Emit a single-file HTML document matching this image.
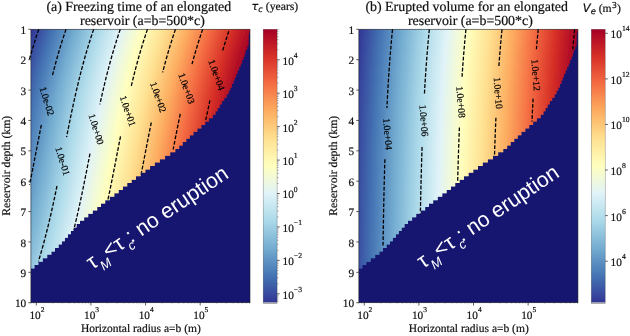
<!DOCTYPE html><html><head><meta charset="utf-8"><title>figure</title><style>html,body{margin:0;padding:0;background:#fff}svg{display:block;will-change:transform;text-rendering:geometricPrecision}</style></head><body>
<svg width="630" height="336" viewBox="0 0 630 336">
<rect width="630" height="336" fill="#fff"/>
<defs><filter id="bl" x="-5%" y="-5%" width="110%" height="110%"><feGaussianBlur stdDeviation="0.6"/></filter><filter id="bl2" x="-5%" y="-5%" width="110%" height="110%"><feGaussianBlur stdDeviation="0.25"/></filter></defs>
<defs><linearGradient id="ga" gradientUnits="userSpaceOnUse" x1="31.45" y1="0" x2="254.22" y2="0"><stop offset="0" stop-color="#313695"/><stop offset="0.1" stop-color="#4575b4"/><stop offset="0.2" stop-color="#74add1"/><stop offset="0.3" stop-color="#abd9e9"/><stop offset="0.4" stop-color="#e0f3f8"/><stop offset="0.5" stop-color="#ffffbf"/><stop offset="0.6" stop-color="#fee090"/><stop offset="0.7" stop-color="#fdae61"/><stop offset="0.8" stop-color="#f46d43"/><stop offset="0.9" stop-color="#d73027"/><stop offset="1" stop-color="#a50026"/></linearGradient>
<clipPath id="cga"><path d="M26.90 25.30 L254.00 25.30 L254.00 32.72 L248.84 32.72 L248.84 36.13 L248.62 36.13 L248.62 39.55 L248.54 39.55 L248.54 42.97 L248.46 42.97 L248.46 46.39 L247.19 46.39 L247.19 49.80 L245.61 49.80 L245.61 53.22 L244.82 53.22 L244.82 56.64 L243.46 56.64 L243.46 60.06 L242.09 60.06 L242.09 63.47 L240.69 63.47 L240.69 66.89 L239.14 66.89 L239.14 70.31 L237.60 70.31 L237.60 73.73 L236.13 73.73 L236.13 77.14 L234.76 77.14 L234.76 80.56 L233.39 80.56 L233.39 83.98 L231.96 83.98 L231.96 87.40 L230.27 87.40 L230.27 90.81 L228.58 90.81 L228.58 94.23 L226.60 94.23 L226.60 97.65 L224.22 97.65 L224.22 101.07 L221.85 101.07 L221.85 104.48 L219.66 104.48 L219.66 107.90 L217.58 107.90 L217.58 111.32 L215.50 111.32 L215.50 114.74 L212.70 114.74 L212.70 118.15 L208.92 118.15 L208.92 121.57 L205.15 121.57 L205.15 124.99 L201.28 124.99 L201.28 128.41 L197.36 128.41 L197.36 131.82 L193.43 131.82 L193.43 135.24 L189.83 135.24 L189.83 138.66 L186.27 138.66 L186.27 142.08 L182.71 142.08 L182.71 145.49 L179.18 145.49 L179.18 148.91 L175.28 148.91 L175.28 152.33 L170.19 152.33 L170.19 155.75 L165.05 155.75 L165.05 159.16 L159.91 159.16 L159.91 162.58 L154.80 162.58 L154.80 166.00 L150.06 166.00 L150.06 169.42 L145.33 169.42 L145.33 172.83 L140.62 172.83 L140.62 176.25 L136.01 176.25 L136.01 179.67 L131.61 179.67 L131.61 183.09 L127.23 183.09 L127.23 186.50 L122.95 186.50 L122.95 189.92 L118.67 189.92 L118.67 193.34 L114.30 193.34 L114.30 196.76 L109.75 196.76 L109.75 200.17 L105.19 200.17 L105.19 203.59 L101.01 203.59 L101.01 207.01 L97.20 207.01 L97.20 210.43 L92.77 210.43 L92.77 213.84 L88.24 213.84 L88.24 217.26 L84.13 217.26 L84.13 220.68 L80.03 220.68 L80.03 224.10 L76.59 224.10 L76.59 227.51 L73.72 227.51 L73.72 230.93 L70.86 230.93 L70.86 234.35 L67.93 234.35 L67.93 237.77 L64.92 237.77 L64.92 241.18 L61.91 241.18 L61.91 244.60 L58.59 244.60 L58.59 248.02 L55.00 248.02 L55.00 251.44 L51.40 251.44 L51.40 254.85 L47.19 254.85 L47.19 258.27 L42.77 258.27 L42.77 261.69 L38.36 261.69 L38.36 265.11 L34.42 265.11 L34.42 268.52 L26.90 268.52 L26.90 271.94 L26.90 271.94 L26.90 275.36 L26.90 275.36 L26.90 278.78 L26.90 278.78 L26.90 282.19 L26.90 282.19 L26.90 285.61 L26.90 285.61 L26.90 289.03 L26.90 289.03 L26.90 292.45 L26.90 292.45 L26.90 295.86 L26.90 295.86 L26.90 299.28 L26.90 299.28 L26.90 302.70 L26.90 302.70Z"/></clipPath>
<clipPath id="rga"><rect x="30.90" y="29.30" width="219.10" height="273.40"/></clipPath></defs>
<g clip-path="url(#rga)"><g filter="url(#bl)"><rect x="26.90" y="25.30" width="227.10" height="281.40" fill="#191970"/>
<g clip-path="url(#cga)">
<rect transform="translate(0.07)" x="26.83" y="25.30" width="227.10" height="3.00" fill="url(#ga)"/>
<rect transform="translate(0.07)" x="26.83" y="27.30" width="227.10" height="3.00" fill="url(#ga)"/>
<rect transform="translate(-0.27)" x="27.17" y="29.30" width="227.10" height="3.00" fill="url(#ga)"/>
<rect transform="translate(-0.95)" x="27.85" y="31.30" width="227.10" height="3.00" fill="url(#ga)"/>
<rect transform="translate(-1.62)" x="28.52" y="33.30" width="227.10" height="3.00" fill="url(#ga)"/>
<rect transform="translate(-2.28)" x="29.18" y="35.30" width="227.10" height="3.00" fill="url(#ga)"/>
<rect transform="translate(-2.93)" x="29.83" y="37.30" width="227.10" height="3.00" fill="url(#ga)"/>
<rect transform="translate(-3.57)" x="30.47" y="39.30" width="227.10" height="3.00" fill="url(#ga)"/>
<rect transform="translate(-4.20)" x="31.10" y="41.30" width="227.10" height="3.00" fill="url(#ga)"/>
<rect transform="translate(-4.83)" x="31.73" y="43.30" width="227.10" height="3.00" fill="url(#ga)"/>
<rect transform="translate(-5.44)" x="32.34" y="45.30" width="227.10" height="3.00" fill="url(#ga)"/>
<rect transform="translate(-6.05)" x="32.95" y="47.30" width="227.10" height="3.00" fill="url(#ga)"/>
<rect transform="translate(-6.65)" x="33.55" y="49.30" width="227.10" height="3.00" fill="url(#ga)"/>
<rect transform="translate(-7.24)" x="34.14" y="51.30" width="227.10" height="3.00" fill="url(#ga)"/>
<rect transform="translate(-7.82)" x="34.72" y="53.30" width="227.10" height="3.00" fill="url(#ga)"/>
<rect transform="translate(-8.39)" x="35.29" y="55.30" width="227.10" height="3.00" fill="url(#ga)"/>
<rect transform="translate(-8.96)" x="35.86" y="57.30" width="227.10" height="3.00" fill="url(#ga)"/>
<rect transform="translate(-9.52)" x="36.42" y="59.30" width="227.10" height="3.00" fill="url(#ga)"/>
<rect transform="translate(-10.08)" x="36.98" y="61.30" width="227.10" height="3.00" fill="url(#ga)"/>
<rect transform="translate(-10.62)" x="37.52" y="63.30" width="227.10" height="3.00" fill="url(#ga)"/>
<rect transform="translate(-11.16)" x="38.06" y="65.30" width="227.10" height="3.00" fill="url(#ga)"/>
<rect transform="translate(-11.69)" x="38.59" y="67.30" width="227.10" height="3.00" fill="url(#ga)"/>
<rect transform="translate(-12.22)" x="39.12" y="69.30" width="227.10" height="3.00" fill="url(#ga)"/>
<rect transform="translate(-12.74)" x="39.64" y="71.30" width="227.10" height="3.00" fill="url(#ga)"/>
<rect transform="translate(-13.25)" x="40.15" y="73.30" width="227.10" height="3.00" fill="url(#ga)"/>
<rect transform="translate(-13.76)" x="40.66" y="75.30" width="227.10" height="3.00" fill="url(#ga)"/>
<rect transform="translate(-14.26)" x="41.16" y="77.30" width="227.10" height="3.00" fill="url(#ga)"/>
<rect transform="translate(-14.75)" x="41.65" y="79.30" width="227.10" height="3.00" fill="url(#ga)"/>
<rect transform="translate(-15.24)" x="42.14" y="81.30" width="227.10" height="3.00" fill="url(#ga)"/>
<rect transform="translate(-15.72)" x="42.62" y="83.30" width="227.10" height="3.00" fill="url(#ga)"/>
<rect transform="translate(-16.20)" x="43.10" y="85.30" width="227.10" height="3.00" fill="url(#ga)"/>
<rect transform="translate(-16.68)" x="43.58" y="87.30" width="227.10" height="3.00" fill="url(#ga)"/>
<rect transform="translate(-17.14)" x="44.04" y="89.30" width="227.10" height="3.00" fill="url(#ga)"/>
<rect transform="translate(-17.61)" x="44.51" y="91.30" width="227.10" height="3.00" fill="url(#ga)"/>
<rect transform="translate(-18.07)" x="44.97" y="93.30" width="227.10" height="3.00" fill="url(#ga)"/>
<rect transform="translate(-18.52)" x="45.42" y="95.30" width="227.10" height="3.00" fill="url(#ga)"/>
<rect transform="translate(-18.97)" x="45.87" y="97.30" width="227.10" height="3.00" fill="url(#ga)"/>
<rect transform="translate(-19.41)" x="46.31" y="99.30" width="227.10" height="3.00" fill="url(#ga)"/>
<rect transform="translate(-19.85)" x="46.75" y="101.30" width="227.10" height="3.00" fill="url(#ga)"/>
<rect transform="translate(-20.29)" x="47.19" y="103.30" width="227.10" height="3.00" fill="url(#ga)"/>
<rect transform="translate(-20.72)" x="47.62" y="105.30" width="227.10" height="3.00" fill="url(#ga)"/>
<rect transform="translate(-21.15)" x="48.05" y="107.30" width="227.10" height="3.00" fill="url(#ga)"/>
<rect transform="translate(-21.58)" x="48.48" y="109.30" width="227.10" height="3.00" fill="url(#ga)"/>
<rect transform="translate(-22.00)" x="48.90" y="111.30" width="227.10" height="3.00" fill="url(#ga)"/>
<rect transform="translate(-22.42)" x="49.32" y="113.30" width="227.10" height="3.00" fill="url(#ga)"/>
<rect transform="translate(-22.84)" x="49.74" y="115.30" width="227.10" height="3.00" fill="url(#ga)"/>
<rect transform="translate(-23.25)" x="50.15" y="117.30" width="227.10" height="3.00" fill="url(#ga)"/>
<rect transform="translate(-23.66)" x="50.56" y="119.30" width="227.10" height="3.00" fill="url(#ga)"/>
<rect transform="translate(-24.07)" x="50.97" y="121.30" width="227.10" height="3.00" fill="url(#ga)"/>
<rect transform="translate(-24.48)" x="51.38" y="123.30" width="227.10" height="3.00" fill="url(#ga)"/>
<rect transform="translate(-24.88)" x="51.78" y="125.30" width="227.10" height="3.00" fill="url(#ga)"/>
<rect transform="translate(-25.28)" x="52.18" y="127.30" width="227.10" height="3.00" fill="url(#ga)"/>
<rect transform="translate(-25.68)" x="52.58" y="129.30" width="227.10" height="3.00" fill="url(#ga)"/>
<rect transform="translate(-26.08)" x="52.98" y="131.30" width="227.10" height="3.00" fill="url(#ga)"/>
<rect transform="translate(-26.47)" x="53.37" y="133.30" width="227.10" height="3.00" fill="url(#ga)"/>
<rect transform="translate(-26.87)" x="53.77" y="135.30" width="227.10" height="3.00" fill="url(#ga)"/>
<rect transform="translate(-27.26)" x="54.16" y="137.30" width="227.10" height="3.00" fill="url(#ga)"/>
<rect transform="translate(-27.65)" x="54.55" y="139.30" width="227.10" height="3.00" fill="url(#ga)"/>
<rect transform="translate(-28.04)" x="54.94" y="141.30" width="227.10" height="3.00" fill="url(#ga)"/>
<rect transform="translate(-28.43)" x="55.33" y="143.30" width="227.10" height="3.00" fill="url(#ga)"/>
<rect transform="translate(-28.82)" x="55.72" y="145.30" width="227.10" height="3.00" fill="url(#ga)"/>
<rect transform="translate(-29.21)" x="56.11" y="147.30" width="227.10" height="3.00" fill="url(#ga)"/>
<rect transform="translate(-29.60)" x="56.50" y="149.30" width="227.10" height="3.00" fill="url(#ga)"/>
<rect transform="translate(-29.99)" x="56.89" y="151.30" width="227.10" height="3.00" fill="url(#ga)"/>
<rect transform="translate(-30.37)" x="57.27" y="153.30" width="227.10" height="3.00" fill="url(#ga)"/>
<rect transform="translate(-30.76)" x="57.66" y="155.30" width="227.10" height="3.00" fill="url(#ga)"/>
<rect transform="translate(-31.15)" x="58.05" y="157.30" width="227.10" height="3.00" fill="url(#ga)"/>
<rect transform="translate(-31.54)" x="58.44" y="159.30" width="227.10" height="3.00" fill="url(#ga)"/>
<rect transform="translate(-31.93)" x="58.83" y="161.30" width="227.10" height="3.00" fill="url(#ga)"/>
<rect transform="translate(-32.32)" x="59.22" y="163.30" width="227.10" height="3.00" fill="url(#ga)"/>
<rect transform="translate(-32.71)" x="59.61" y="165.30" width="227.10" height="3.00" fill="url(#ga)"/>
<rect transform="translate(-33.10)" x="60.00" y="167.30" width="227.10" height="3.00" fill="url(#ga)"/>
<rect transform="translate(-33.49)" x="60.39" y="169.30" width="227.10" height="3.00" fill="url(#ga)"/>
<rect transform="translate(-33.88)" x="60.78" y="171.30" width="227.10" height="3.00" fill="url(#ga)"/>
<rect transform="translate(-34.28)" x="61.18" y="173.30" width="227.10" height="3.00" fill="url(#ga)"/>
<rect transform="translate(-34.68)" x="61.58" y="175.30" width="227.10" height="3.00" fill="url(#ga)"/>
<rect transform="translate(-35.07)" x="61.97" y="177.30" width="227.10" height="3.00" fill="url(#ga)"/>
<rect transform="translate(-35.47)" x="62.37" y="179.30" width="227.10" height="3.00" fill="url(#ga)"/>
<rect transform="translate(-35.88)" x="62.78" y="181.30" width="227.10" height="3.00" fill="url(#ga)"/>
<rect transform="translate(-36.28)" x="63.18" y="183.30" width="227.10" height="3.00" fill="url(#ga)"/>
<rect transform="translate(-36.69)" x="63.59" y="185.30" width="227.10" height="3.00" fill="url(#ga)"/>
<rect transform="translate(-37.10)" x="64.00" y="187.30" width="227.10" height="3.00" fill="url(#ga)"/>
<rect transform="translate(-37.51)" x="64.41" y="189.30" width="227.10" height="3.00" fill="url(#ga)"/>
<rect transform="translate(-37.93)" x="64.83" y="191.30" width="227.10" height="3.00" fill="url(#ga)"/>
<rect transform="translate(-38.34)" x="65.24" y="193.30" width="227.10" height="3.00" fill="url(#ga)"/>
<rect transform="translate(-38.76)" x="65.66" y="195.30" width="227.10" height="3.00" fill="url(#ga)"/>
<rect transform="translate(-39.19)" x="66.09" y="197.30" width="227.10" height="3.00" fill="url(#ga)"/>
<rect transform="translate(-39.62)" x="66.52" y="199.30" width="227.10" height="3.00" fill="url(#ga)"/>
<rect transform="translate(-40.05)" x="66.95" y="201.30" width="227.10" height="3.00" fill="url(#ga)"/>
<rect transform="translate(-40.48)" x="67.38" y="203.30" width="227.10" height="3.00" fill="url(#ga)"/>
<rect transform="translate(-40.92)" x="67.82" y="205.30" width="227.10" height="3.00" fill="url(#ga)"/>
<rect transform="translate(-41.37)" x="68.27" y="207.30" width="227.10" height="3.00" fill="url(#ga)"/>
<rect transform="translate(-41.81)" x="68.71" y="209.30" width="227.10" height="3.00" fill="url(#ga)"/>
<rect transform="translate(-42.26)" x="69.16" y="211.30" width="227.10" height="3.00" fill="url(#ga)"/>
<rect transform="translate(-42.72)" x="69.62" y="213.30" width="227.10" height="3.00" fill="url(#ga)"/>
<rect transform="translate(-43.18)" x="70.08" y="215.30" width="227.10" height="3.00" fill="url(#ga)"/>
<rect transform="translate(-43.65)" x="70.55" y="217.30" width="227.10" height="3.00" fill="url(#ga)"/>
<rect transform="translate(-44.12)" x="71.02" y="219.30" width="227.10" height="3.00" fill="url(#ga)"/>
<rect transform="translate(-44.59)" x="71.49" y="221.30" width="227.10" height="3.00" fill="url(#ga)"/>
<rect transform="translate(-45.08)" x="71.98" y="223.30" width="227.10" height="3.00" fill="url(#ga)"/>
<rect transform="translate(-45.56)" x="72.46" y="225.30" width="227.10" height="3.00" fill="url(#ga)"/>
<rect transform="translate(-46.05)" x="72.95" y="227.30" width="227.10" height="3.00" fill="url(#ga)"/>
<rect transform="translate(-46.55)" x="73.45" y="229.30" width="227.10" height="3.00" fill="url(#ga)"/>
<rect transform="translate(-47.06)" x="73.96" y="231.30" width="227.10" height="3.00" fill="url(#ga)"/>
<rect transform="translate(-47.57)" x="74.47" y="233.30" width="227.10" height="3.00" fill="url(#ga)"/>
<rect transform="translate(-48.08)" x="74.98" y="235.30" width="227.10" height="3.00" fill="url(#ga)"/>
<rect transform="translate(-48.61)" x="75.51" y="237.30" width="227.10" height="3.00" fill="url(#ga)"/>
<rect transform="translate(-49.14)" x="76.04" y="239.30" width="227.10" height="3.00" fill="url(#ga)"/>
<rect transform="translate(-49.67)" x="76.57" y="241.30" width="227.10" height="3.00" fill="url(#ga)"/>
<rect transform="translate(-50.21)" x="77.11" y="243.30" width="227.10" height="3.00" fill="url(#ga)"/>
<rect transform="translate(-50.76)" x="77.66" y="245.30" width="227.10" height="3.00" fill="url(#ga)"/>
<rect transform="translate(-51.32)" x="78.22" y="247.30" width="227.10" height="3.00" fill="url(#ga)"/>
<rect transform="translate(-51.88)" x="78.78" y="249.30" width="227.10" height="3.00" fill="url(#ga)"/>
<rect transform="translate(-52.46)" x="79.36" y="251.30" width="227.10" height="3.00" fill="url(#ga)"/>
<rect transform="translate(-53.04)" x="79.94" y="253.30" width="227.10" height="3.00" fill="url(#ga)"/>
<rect transform="translate(-53.62)" x="80.52" y="255.30" width="227.10" height="3.00" fill="url(#ga)"/>
<rect transform="translate(-54.22)" x="81.12" y="257.30" width="227.10" height="3.00" fill="url(#ga)"/>
<rect transform="translate(-54.82)" x="81.72" y="259.30" width="227.10" height="3.00" fill="url(#ga)"/>
<rect transform="translate(-55.43)" x="82.33" y="261.30" width="227.10" height="3.00" fill="url(#ga)"/>
<rect transform="translate(-56.05)" x="82.95" y="263.30" width="227.10" height="3.00" fill="url(#ga)"/>
<rect transform="translate(-56.68)" x="83.58" y="265.30" width="227.10" height="3.00" fill="url(#ga)"/>
<rect transform="translate(-57.32)" x="84.22" y="267.30" width="227.10" height="3.00" fill="url(#ga)"/>
<rect transform="translate(-57.96)" x="84.86" y="269.30" width="227.10" height="3.00" fill="url(#ga)"/>
<rect transform="translate(-58.62)" x="85.52" y="271.30" width="227.10" height="3.00" fill="url(#ga)"/>
<rect transform="translate(-59.28)" x="86.18" y="273.30" width="227.10" height="3.00" fill="url(#ga)"/>
<rect transform="translate(-59.96)" x="86.86" y="275.30" width="227.10" height="3.00" fill="url(#ga)"/>
<rect transform="translate(-60.64)" x="87.54" y="277.30" width="227.10" height="3.00" fill="url(#ga)"/>
<rect transform="translate(-61.33)" x="88.23" y="279.30" width="227.10" height="3.00" fill="url(#ga)"/>
<rect transform="translate(-62.03)" x="88.93" y="281.30" width="227.10" height="3.00" fill="url(#ga)"/>
<rect transform="translate(-62.75)" x="89.65" y="283.30" width="227.10" height="3.00" fill="url(#ga)"/>
<rect transform="translate(-63.47)" x="90.37" y="285.30" width="227.10" height="3.00" fill="url(#ga)"/>
<rect transform="translate(-64.20)" x="91.10" y="287.30" width="227.10" height="3.00" fill="url(#ga)"/>
<rect transform="translate(-64.94)" x="91.84" y="289.30" width="227.10" height="3.00" fill="url(#ga)"/>
<rect transform="translate(-65.70)" x="92.60" y="291.30" width="227.10" height="3.00" fill="url(#ga)"/>
<rect transform="translate(-66.46)" x="93.36" y="293.30" width="227.10" height="3.00" fill="url(#ga)"/>
<rect transform="translate(-67.24)" x="94.14" y="295.30" width="227.10" height="3.00" fill="url(#ga)"/>
<rect transform="translate(-68.02)" x="94.92" y="297.30" width="227.10" height="3.00" fill="url(#ga)"/>
<rect transform="translate(-68.82)" x="95.72" y="299.30" width="227.10" height="3.00" fill="url(#ga)"/>
<rect transform="translate(-69.63)" x="96.53" y="301.30" width="227.10" height="1.40" fill="url(#ga)"/>
</g></g></g>
<g filter="url(#bl2)"><g clip-path="url(#cga)" fill="none" stroke="#000" stroke-width="1.3" stroke-dasharray="3.8 1.7">
<path d="M38.77 29.30 L37.41 33.30 L36.10 37.30 L34.81 41.30 L33.57 45.30 L32.35 49.30 L31.17 53.30 L30.02 57.30 L29.26 60.00"/>
<path d="M66.02 29.30 L64.66 33.30 L63.35 37.30 L62.06 41.30 L60.82 45.30 L59.60 49.30 L58.42 53.30 L57.27 57.30 L56.15 61.30 L55.06 65.30 L53.99 69.30 L52.96 73.30 L52.17 76.40"/>
<path d="M41.33 125.00 L40.53 129.00 L39.73 133.00 L38.94 137.00 L38.16 141.00 L37.38 145.00 L36.60 149.00 L35.83 153.00 L35.05 157.00 L34.28 161.00 L33.50 165.00 L32.71 169.00 L31.93 173.00 L31.13 177.00 L30.33 181.00 L29.53 185.00"/>
<path d="M93.67 29.30 L92.31 33.30 L91.00 37.30 L89.71 41.30 L88.47 45.30 L87.25 49.30 L86.07 53.30 L84.92 57.30 L83.80 61.30 L82.71 65.30 L81.64 69.30 L80.61 73.30 L79.59 77.30 L78.60 81.30 L77.64 85.30 L76.69 89.30 L75.76 93.30 L74.86 97.30 L73.97 101.30 L73.09 105.30 L72.23 109.30 L71.39 113.30 L70.55 117.30 L69.73 121.30 L68.92 125.30 L68.12 129.30 L67.32 133.30 L66.58 137.10"/>
<path d="M56.97 186.00 L56.15 190.00 L55.32 194.00 L54.48 198.00 L53.62 202.00 L52.74 206.00 L51.85 210.00 L50.95 214.00 L50.02 218.00 L49.08 222.00 L48.11 226.00 L47.12 230.00 L46.11 234.00 L45.07 238.00 L44.01 242.00 L42.92 246.00 L41.80 250.00 L40.65 254.00 L39.47 258.00 L38.44 261.40"/>
<path d="M120.27 29.30 L118.91 33.30 L117.60 37.30 L116.31 41.30 L115.07 45.30 L113.85 49.30 L112.67 53.30 L111.52 57.30 L110.40 61.30 L109.31 65.30 L108.24 69.30 L107.21 73.30 L106.19 77.30 L105.20 81.30 L104.24 85.30 L103.29 89.30 L102.36 93.30 L101.46 97.30 L100.57 101.30 L99.91 104.30"/>
<path d="M89.96 153.60 L89.19 157.60 L88.41 161.60 L87.63 165.60 L86.85 169.60 L86.06 173.60 L85.27 177.60 L84.46 181.60 L83.65 185.60 L82.83 189.60 L82.00 193.60 L81.16 197.60 L80.30 201.60 L79.43 205.60 L78.54 209.60 L77.64 213.60 L76.72 217.60 L75.77 221.60 L74.81 225.60 L73.82 229.60 L73.62 230.40"/>
<path d="M147.47 29.30 L146.11 33.30 L144.80 37.30 L143.51 41.30 L142.27 45.30 L141.05 49.30 L139.87 53.30 L138.72 57.30 L137.60 61.30 L136.51 65.30 L135.44 69.30 L134.41 73.30 L133.39 77.30 L132.40 81.30 L131.44 85.30 L131.17 86.40"/>
<path d="M120.53 136.30 L119.75 140.30 L118.97 144.30 L118.19 148.30 L117.41 152.30 L116.64 156.30 L115.86 160.30 L115.08 164.30 L114.30 168.30 L113.52 172.30 L112.72 176.30 L111.93 180.30 L111.12 184.30 L110.30 188.30 L109.47 192.30 L108.64 196.30 L107.80 200.20"/>
<path d="M175.47 29.30 L174.11 33.30 L172.80 37.30 L171.51 41.30 L170.27 45.30 L169.05 49.30 L167.87 53.30 L166.72 57.30 L165.60 61.30 L164.51 65.30 L163.44 69.30 L162.66 72.30"/>
<path d="M151.29 122.50 L150.48 126.50 L149.68 130.50 L148.89 134.50 L148.10 138.50 L147.32 142.50 L146.54 146.50 L145.76 150.50 L144.99 154.50 L144.21 158.50 L143.43 162.50 L142.65 166.50 L141.87 170.50 L141.18 174.00"/>
<path d="M202.67 29.30 L201.31 33.30 L200.00 37.30 L198.71 41.30 L197.47 45.30 L196.25 49.30 L195.07 53.30 L193.92 57.30 L192.80 61.30 L192.01 64.20"/>
<path d="M180.26 113.90 L179.43 117.90 L178.61 121.90 L177.80 125.90 L177.00 129.90 L176.21 133.90 L175.42 137.90 L174.64 141.90 L173.86 145.90 L173.16 149.50"/>
<path d="M228.82 31.20 L227.48 35.20 L226.18 39.20 L224.92 43.20 L223.69 47.20 L222.49 51.20"/>
<path d="M209.99 100.30 L209.11 104.30 L208.25 108.30 L207.40 112.30 L206.56 116.30 L205.74 120.30 L205.72 120.40"/>
</g></g>
<g font-family="'Liberation Serif',serif" font-size="9.75" text-anchor="middle" fill="#000" stroke="#000" stroke-width="0.2">
<text transform="translate(47.0 101.1) rotate(72.5)" y="3.3">1.0e-02</text>
<text transform="translate(62.7 161.1) rotate(73.0)" y="3.3">1.0e-01</text>
<text transform="translate(96.3 129.1) rotate(73.0)" y="3.3">1.0e+00</text>
<text transform="translate(127.9 111.0) rotate(71.5)" y="3.3">1.0e+01</text>
<text transform="translate(158.3 97.1) rotate(71.0)" y="3.3">1.0e+02</text>
<text transform="translate(186.7 88.4) rotate(70.0)" y="3.3">1.0e+03</text>
<text transform="translate(216.7 74.9) rotate(70.0)" y="3.3">1.0e+04</text>
</g>
<g stroke="#1a1a1a" stroke-width="0.7" fill="none">
<rect x="30.90" y="29.30" width="219.10" height="273.40" stroke-opacity="0.8"/>
<path d="M30.90 29.30h-2.6"/>
<path d="M30.90 59.68h-2.6"/>
<path d="M30.90 90.06h-2.6"/>
<path d="M30.90 120.43h-2.6"/>
<path d="M30.90 150.81h-2.6"/>
<path d="M30.90 181.19h-2.6"/>
<path d="M30.90 211.57h-2.6"/>
<path d="M30.90 241.94h-2.6"/>
<path d="M30.90 272.32h-2.6"/>
<path d="M30.90 302.70h-2.6"/>
<path d="M36.30 302.70v2.8"/>
<path d="M90.93 302.70v2.8"/>
<path d="M145.56 302.70v2.8"/>
<path d="M200.19 302.70v2.8"/>
</g>
<g stroke="#222" stroke-width="0.5" stroke-opacity="0.35">
<path d="M31.01 302.70v1.5"/>
<path d="M33.80 302.70v1.5"/>
<path d="M52.75 302.70v1.5"/>
<path d="M62.37 302.70v1.5"/>
<path d="M69.19 302.70v1.5"/>
<path d="M74.48 302.70v1.5"/>
<path d="M78.81 302.70v1.5"/>
<path d="M82.47 302.70v1.5"/>
<path d="M85.64 302.70v1.5"/>
<path d="M88.43 302.70v1.5"/>
<path d="M107.38 302.70v1.5"/>
<path d="M117.00 302.70v1.5"/>
<path d="M123.82 302.70v1.5"/>
<path d="M129.11 302.70v1.5"/>
<path d="M133.44 302.70v1.5"/>
<path d="M137.10 302.70v1.5"/>
<path d="M140.27 302.70v1.5"/>
<path d="M143.06 302.70v1.5"/>
<path d="M162.01 302.70v1.5"/>
<path d="M171.63 302.70v1.5"/>
<path d="M178.45 302.70v1.5"/>
<path d="M183.74 302.70v1.5"/>
<path d="M188.07 302.70v1.5"/>
<path d="M191.73 302.70v1.5"/>
<path d="M194.90 302.70v1.5"/>
<path d="M197.69 302.70v1.5"/>
<path d="M216.64 302.70v1.5"/>
<path d="M226.26 302.70v1.5"/>
<path d="M233.08 302.70v1.5"/>
<path d="M238.37 302.70v1.5"/>
<path d="M242.70 302.70v1.5"/>
<path d="M246.36 302.70v1.5"/>
<path d="M249.53 302.70v1.5"/>
</g>
<g font-family="'Liberation Serif',serif" font-size="11.3" fill="#111" stroke="#111" stroke-width="0.2">
<text x="26.20" y="33.90" text-anchor="end">1</text>
<text x="26.20" y="64.28" text-anchor="end">2</text>
<text x="26.20" y="94.66" text-anchor="end">3</text>
<text x="26.20" y="125.03" text-anchor="end">4</text>
<text x="26.20" y="155.41" text-anchor="end">5</text>
<text x="26.20" y="185.79" text-anchor="end">6</text>
<text x="26.20" y="216.17" text-anchor="end">7</text>
<text x="26.20" y="246.54" text-anchor="end">8</text>
<text x="26.20" y="276.92" text-anchor="end">9</text>
<text x="26.20" y="307.30" text-anchor="end">10</text>
<text x="36.90" y="319.00" text-anchor="middle">10<tspan font-size="7.5" dy="-7.0">2</tspan></text>
<text x="91.53" y="319.00" text-anchor="middle">10<tspan font-size="7.5" dy="-7.0">3</tspan></text>
<text x="146.16" y="319.00" text-anchor="middle">10<tspan font-size="7.5" dy="-7.0">4</tspan></text>
<text x="200.79" y="319.00" text-anchor="middle">10<tspan font-size="7.5" dy="-7.0">5</tspan></text>
<text x="140.85" y="332.2" text-anchor="middle" font-size="11.5">Horizontal radius a=b (m)</text>
<text transform="translate(9.50 165.80) rotate(-90)" text-anchor="middle" font-size="11.7">Reservoir depth (km)</text>
<text x="138.75" y="10.5" text-anchor="middle" font-size="13.9">(a) Freezing time of an elongated</text>
<text x="142.45" y="25" text-anchor="middle" font-size="13.9">reservoir (a=b=500*c)</text>
</g>
<defs><linearGradient id="cba" x1="0" y1="1" x2="0" y2="0"><stop offset="0" stop-color="#313695"/><stop offset="0.1" stop-color="#4575b4"/><stop offset="0.2" stop-color="#74add1"/><stop offset="0.3" stop-color="#abd9e9"/><stop offset="0.4" stop-color="#e0f3f8"/><stop offset="0.5" stop-color="#ffffbf"/><stop offset="0.6" stop-color="#fee090"/><stop offset="0.7" stop-color="#fdae61"/><stop offset="0.8" stop-color="#f46d43"/><stop offset="0.9" stop-color="#d73027"/><stop offset="1" stop-color="#a50026"/></linearGradient></defs>
<rect x="263.20" y="29.30" width="13.90" height="273.40" fill="url(#cba)"/>
<rect x="263.20" y="302.30" width="13.90" height="1.1" fill="#a9a9b4"/>
<rect x="263.20" y="29.30" width="13.90" height="274.00" fill="none" stroke="#222" stroke-width="0.5" stroke-opacity="0.5"/>
<g stroke="#1a1a1a" stroke-width="0.7">
<path d="M277.10 293.80h2.6"/>
<path d="M277.10 260.37h2.6"/>
<path d="M277.10 226.94h2.6"/>
<path d="M277.10 193.51h2.6"/>
<path d="M277.10 160.08h2.6"/>
<path d="M277.10 126.65h2.6"/>
<path d="M277.10 93.22h2.6"/>
<path d="M277.10 59.79h2.6"/>
</g>
<g stroke="#1a1a1a" stroke-width="0.5" stroke-opacity="0.7">
<path d="M277.10 301.22h1.4"/>
<path d="M277.10 298.98h1.4"/>
<path d="M277.10 297.04h1.4"/>
<path d="M277.10 295.33h1.4"/>
<path d="M277.10 283.74h1.4"/>
<path d="M277.10 277.85h1.4"/>
<path d="M277.10 273.67h1.4"/>
<path d="M277.10 270.43h1.4"/>
<path d="M277.10 267.79h1.4"/>
<path d="M277.10 265.55h1.4"/>
<path d="M277.10 263.61h1.4"/>
<path d="M277.10 261.90h1.4"/>
<path d="M277.10 250.31h1.4"/>
<path d="M277.10 244.42h1.4"/>
<path d="M277.10 240.24h1.4"/>
<path d="M277.10 237.00h1.4"/>
<path d="M277.10 234.36h1.4"/>
<path d="M277.10 232.12h1.4"/>
<path d="M277.10 230.18h1.4"/>
<path d="M277.10 228.47h1.4"/>
<path d="M277.10 216.88h1.4"/>
<path d="M277.10 210.99h1.4"/>
<path d="M277.10 206.81h1.4"/>
<path d="M277.10 203.57h1.4"/>
<path d="M277.10 200.93h1.4"/>
<path d="M277.10 198.69h1.4"/>
<path d="M277.10 196.75h1.4"/>
<path d="M277.10 195.04h1.4"/>
<path d="M277.10 183.45h1.4"/>
<path d="M277.10 177.56h1.4"/>
<path d="M277.10 173.38h1.4"/>
<path d="M277.10 170.14h1.4"/>
<path d="M277.10 167.50h1.4"/>
<path d="M277.10 165.26h1.4"/>
<path d="M277.10 163.32h1.4"/>
<path d="M277.10 161.61h1.4"/>
<path d="M277.10 150.02h1.4"/>
<path d="M277.10 144.13h1.4"/>
<path d="M277.10 139.95h1.4"/>
<path d="M277.10 136.71h1.4"/>
<path d="M277.10 134.07h1.4"/>
<path d="M277.10 131.83h1.4"/>
<path d="M277.10 129.89h1.4"/>
<path d="M277.10 128.18h1.4"/>
<path d="M277.10 116.59h1.4"/>
<path d="M277.10 110.70h1.4"/>
<path d="M277.10 106.52h1.4"/>
<path d="M277.10 103.28h1.4"/>
<path d="M277.10 100.64h1.4"/>
<path d="M277.10 98.40h1.4"/>
<path d="M277.10 96.46h1.4"/>
<path d="M277.10 94.75h1.4"/>
<path d="M277.10 83.16h1.4"/>
<path d="M277.10 77.27h1.4"/>
<path d="M277.10 73.09h1.4"/>
<path d="M277.10 69.85h1.4"/>
<path d="M277.10 67.21h1.4"/>
<path d="M277.10 64.97h1.4"/>
<path d="M277.10 63.03h1.4"/>
<path d="M277.10 61.32h1.4"/>
<path d="M277.10 49.73h1.4"/>
<path d="M277.10 43.84h1.4"/>
<path d="M277.10 39.66h1.4"/>
<path d="M277.10 36.42h1.4"/>
<path d="M277.10 33.78h1.4"/>
<path d="M277.10 31.54h1.4"/>
<path d="M277.10 29.60h1.4"/>
</g>
<g font-family="'Liberation Serif',serif" font-size="11.3" fill="#111" stroke="#111" stroke-width="0.2">
<text x="282.50" y="298.70">10<tspan font-size="7.7" dy="-6.9">−3</tspan></text>
<text x="282.50" y="265.27">10<tspan font-size="7.7" dy="-6.9">−2</tspan></text>
<text x="282.50" y="231.84">10<tspan font-size="7.7" dy="-6.9">−1</tspan></text>
<text x="282.50" y="198.41">10<tspan font-size="7.7" dy="-6.9">0</tspan></text>
<text x="282.50" y="164.98">10<tspan font-size="7.7" dy="-6.9">1</tspan></text>
<text x="282.50" y="131.55">10<tspan font-size="7.7" dy="-6.9">2</tspan></text>
<text x="282.50" y="98.12">10<tspan font-size="7.7" dy="-6.9">3</tspan></text>
<text x="282.50" y="64.69">10<tspan font-size="7.7" dy="-6.9">4</tspan></text>
<text x="251.6" y="9.6" font-size="11.7"><tspan font-family="'DejaVu Sans',sans-serif" font-style="italic" font-size="11.2">τ</tspan><tspan font-family="'DejaVu Sans',sans-serif" font-style="italic" font-size="8.2" dy="2.2">c</tspan><tspan dy="-2.2"> (years)</tspan></text>
</g>
<defs><linearGradient id="gb" gradientUnits="userSpaceOnUse" x1="359.36" y1="0" x2="577.88" y2="0"><stop offset="0" stop-color="#313695"/><stop offset="0.1" stop-color="#4575b4"/><stop offset="0.2" stop-color="#74add1"/><stop offset="0.3" stop-color="#abd9e9"/><stop offset="0.4" stop-color="#e0f3f8"/><stop offset="0.5" stop-color="#ffffbf"/><stop offset="0.6" stop-color="#fee090"/><stop offset="0.7" stop-color="#fdae61"/><stop offset="0.8" stop-color="#f46d43"/><stop offset="0.9" stop-color="#d73027"/><stop offset="1" stop-color="#a50026"/></linearGradient>
<clipPath id="cgb"><path d="M354.85 25.30 L581.95 25.30 L581.95 32.72 L576.79 32.72 L576.79 36.13 L576.57 36.13 L576.57 39.55 L576.49 39.55 L576.49 42.97 L576.41 42.97 L576.41 46.39 L575.14 46.39 L575.14 49.80 L573.56 49.80 L573.56 53.22 L572.77 53.22 L572.77 56.64 L571.41 56.64 L571.41 60.06 L570.04 60.06 L570.04 63.47 L568.64 63.47 L568.64 66.89 L567.09 66.89 L567.09 70.31 L565.55 70.31 L565.55 73.73 L564.08 73.73 L564.08 77.14 L562.71 77.14 L562.71 80.56 L561.34 80.56 L561.34 83.98 L559.91 83.98 L559.91 87.40 L558.22 87.40 L558.22 90.81 L556.53 90.81 L556.53 94.23 L554.55 94.23 L554.55 97.65 L552.17 97.65 L552.17 101.07 L549.80 101.07 L549.80 104.48 L547.61 104.48 L547.61 107.90 L545.53 107.90 L545.53 111.32 L543.45 111.32 L543.45 114.74 L540.65 114.74 L540.65 118.15 L536.87 118.15 L536.87 121.57 L533.10 121.57 L533.10 124.99 L529.23 124.99 L529.23 128.41 L525.31 128.41 L525.31 131.82 L521.38 131.82 L521.38 135.24 L517.78 135.24 L517.78 138.66 L514.22 138.66 L514.22 142.08 L510.66 142.08 L510.66 145.49 L507.13 145.49 L507.13 148.91 L503.23 148.91 L503.23 152.33 L498.14 152.33 L498.14 155.75 L493.00 155.75 L493.00 159.16 L487.86 159.16 L487.86 162.58 L482.75 162.58 L482.75 166.00 L478.01 166.00 L478.01 169.42 L473.28 169.42 L473.28 172.83 L468.57 172.83 L468.57 176.25 L463.96 176.25 L463.96 179.67 L459.56 179.67 L459.56 183.09 L455.18 183.09 L455.18 186.50 L450.90 186.50 L450.90 189.92 L446.62 189.92 L446.62 193.34 L442.25 193.34 L442.25 196.76 L437.70 196.76 L437.70 200.17 L433.14 200.17 L433.14 203.59 L428.96 203.59 L428.96 207.01 L425.15 207.01 L425.15 210.43 L420.72 210.43 L420.72 213.84 L416.19 213.84 L416.19 217.26 L412.08 217.26 L412.08 220.68 L407.98 220.68 L407.98 224.10 L404.54 224.10 L404.54 227.51 L401.67 227.51 L401.67 230.93 L398.81 230.93 L398.81 234.35 L395.88 234.35 L395.88 237.77 L392.87 237.77 L392.87 241.18 L389.86 241.18 L389.86 244.60 L386.54 244.60 L386.54 248.02 L382.95 248.02 L382.95 251.44 L379.35 251.44 L379.35 254.85 L375.14 254.85 L375.14 258.27 L370.72 258.27 L370.72 261.69 L366.31 261.69 L366.31 265.11 L362.37 265.11 L362.37 268.52 L354.85 268.52 L354.85 271.94 L354.85 271.94 L354.85 275.36 L354.85 275.36 L354.85 278.78 L354.85 278.78 L354.85 282.19 L354.85 282.19 L354.85 285.61 L354.85 285.61 L354.85 289.03 L354.85 289.03 L354.85 292.45 L354.85 292.45 L354.85 295.86 L354.85 295.86 L354.85 299.28 L354.85 299.28 L354.85 302.70 L354.85 302.70Z"/></clipPath>
<clipPath id="rgb"><rect x="358.85" y="29.30" width="219.10" height="273.40"/></clipPath></defs>
<g clip-path="url(#rgb)"><g filter="url(#bl)"><rect x="354.85" y="25.30" width="227.10" height="281.40" fill="#191970"/>
<g clip-path="url(#cgb)">
<rect transform="translate(0.02)" x="354.83" y="25.30" width="227.10" height="3.00" fill="url(#gb)"/>
<rect transform="translate(0.02)" x="354.83" y="27.30" width="227.10" height="3.00" fill="url(#gb)"/>
<rect transform="translate(-0.08)" x="354.93" y="29.30" width="227.10" height="3.00" fill="url(#gb)"/>
<rect transform="translate(-0.28)" x="355.13" y="31.30" width="227.10" height="3.00" fill="url(#gb)"/>
<rect transform="translate(-0.47)" x="355.32" y="33.30" width="227.10" height="3.00" fill="url(#gb)"/>
<rect transform="translate(-0.66)" x="355.51" y="35.30" width="227.10" height="3.00" fill="url(#gb)"/>
<rect transform="translate(-0.85)" x="355.70" y="37.30" width="227.10" height="3.00" fill="url(#gb)"/>
<rect transform="translate(-1.03)" x="355.88" y="39.30" width="227.10" height="3.00" fill="url(#gb)"/>
<rect transform="translate(-1.21)" x="356.06" y="41.30" width="227.10" height="3.00" fill="url(#gb)"/>
<rect transform="translate(-1.38)" x="356.23" y="43.30" width="227.10" height="3.00" fill="url(#gb)"/>
<rect transform="translate(-1.56)" x="356.41" y="45.30" width="227.10" height="3.00" fill="url(#gb)"/>
<rect transform="translate(-1.73)" x="356.58" y="47.30" width="227.10" height="3.00" fill="url(#gb)"/>
<rect transform="translate(-1.90)" x="356.75" y="49.30" width="227.10" height="3.00" fill="url(#gb)"/>
<rect transform="translate(-2.06)" x="356.91" y="51.30" width="227.10" height="3.00" fill="url(#gb)"/>
<rect transform="translate(-2.22)" x="357.07" y="53.30" width="227.10" height="3.00" fill="url(#gb)"/>
<rect transform="translate(-2.38)" x="357.23" y="55.30" width="227.10" height="3.00" fill="url(#gb)"/>
<rect transform="translate(-2.53)" x="357.38" y="57.30" width="227.10" height="3.00" fill="url(#gb)"/>
<rect transform="translate(-2.69)" x="357.54" y="59.30" width="227.10" height="3.00" fill="url(#gb)"/>
<rect transform="translate(-2.84)" x="357.69" y="61.30" width="227.10" height="3.00" fill="url(#gb)"/>
<rect transform="translate(-2.98)" x="357.83" y="63.30" width="227.10" height="3.00" fill="url(#gb)"/>
<rect transform="translate(-3.13)" x="357.98" y="65.30" width="227.10" height="3.00" fill="url(#gb)"/>
<rect transform="translate(-3.27)" x="358.12" y="67.30" width="227.10" height="3.00" fill="url(#gb)"/>
<rect transform="translate(-3.41)" x="358.26" y="69.30" width="227.10" height="3.00" fill="url(#gb)"/>
<rect transform="translate(-3.55)" x="358.40" y="71.30" width="227.10" height="3.00" fill="url(#gb)"/>
<rect transform="translate(-3.68)" x="358.53" y="73.30" width="227.10" height="3.00" fill="url(#gb)"/>
<rect transform="translate(-3.81)" x="358.66" y="75.30" width="227.10" height="3.00" fill="url(#gb)"/>
<rect transform="translate(-3.94)" x="358.79" y="77.30" width="227.10" height="3.00" fill="url(#gb)"/>
<rect transform="translate(-4.07)" x="358.92" y="79.30" width="227.10" height="3.00" fill="url(#gb)"/>
<rect transform="translate(-4.19)" x="359.04" y="81.30" width="227.10" height="3.00" fill="url(#gb)"/>
<rect transform="translate(-4.32)" x="359.17" y="83.30" width="227.10" height="3.00" fill="url(#gb)"/>
<rect transform="translate(-4.44)" x="359.29" y="85.30" width="227.10" height="3.00" fill="url(#gb)"/>
<rect transform="translate(-4.55)" x="359.40" y="87.30" width="227.10" height="3.00" fill="url(#gb)"/>
<rect transform="translate(-4.67)" x="359.52" y="89.30" width="227.10" height="3.00" fill="url(#gb)"/>
<rect transform="translate(-4.78)" x="359.63" y="91.30" width="227.10" height="3.00" fill="url(#gb)"/>
<rect transform="translate(-4.90)" x="359.75" y="93.30" width="227.10" height="3.00" fill="url(#gb)"/>
<rect transform="translate(-5.01)" x="359.86" y="95.30" width="227.10" height="3.00" fill="url(#gb)"/>
<rect transform="translate(-5.11)" x="359.96" y="97.30" width="227.10" height="3.00" fill="url(#gb)"/>
<rect transform="translate(-5.22)" x="360.07" y="99.30" width="227.10" height="3.00" fill="url(#gb)"/>
<rect transform="translate(-5.32)" x="360.17" y="101.30" width="227.10" height="3.00" fill="url(#gb)"/>
<rect transform="translate(-5.43)" x="360.28" y="103.30" width="227.10" height="3.00" fill="url(#gb)"/>
<rect transform="translate(-5.53)" x="360.38" y="105.30" width="227.10" height="3.00" fill="url(#gb)"/>
<rect transform="translate(-5.63)" x="360.48" y="107.30" width="227.10" height="3.00" fill="url(#gb)"/>
<rect transform="translate(-5.72)" x="360.57" y="109.30" width="227.10" height="3.00" fill="url(#gb)"/>
<rect transform="translate(-5.82)" x="360.67" y="111.30" width="227.10" height="3.00" fill="url(#gb)"/>
<rect transform="translate(-5.91)" x="360.76" y="113.30" width="227.10" height="3.00" fill="url(#gb)"/>
<rect transform="translate(-6.00)" x="360.85" y="115.30" width="227.10" height="3.00" fill="url(#gb)"/>
<rect transform="translate(-6.09)" x="360.94" y="117.30" width="227.10" height="3.00" fill="url(#gb)"/>
<rect transform="translate(-6.18)" x="361.03" y="119.30" width="227.10" height="3.00" fill="url(#gb)"/>
<rect transform="translate(-6.27)" x="361.12" y="121.30" width="227.10" height="3.00" fill="url(#gb)"/>
<rect transform="translate(-6.35)" x="361.20" y="123.30" width="227.10" height="3.00" fill="url(#gb)"/>
<rect transform="translate(-6.44)" x="361.29" y="125.30" width="227.10" height="3.00" fill="url(#gb)"/>
<rect transform="translate(-6.52)" x="361.37" y="127.30" width="227.10" height="3.00" fill="url(#gb)"/>
<rect transform="translate(-6.60)" x="361.45" y="129.30" width="227.10" height="3.00" fill="url(#gb)"/>
<rect transform="translate(-6.68)" x="361.53" y="131.30" width="227.10" height="3.00" fill="url(#gb)"/>
<rect transform="translate(-6.76)" x="361.61" y="133.30" width="227.10" height="3.00" fill="url(#gb)"/>
<rect transform="translate(-6.83)" x="361.68" y="135.30" width="227.10" height="3.00" fill="url(#gb)"/>
<rect transform="translate(-6.91)" x="361.76" y="137.30" width="227.10" height="3.00" fill="url(#gb)"/>
<rect transform="translate(-6.98)" x="361.83" y="139.30" width="227.10" height="3.00" fill="url(#gb)"/>
<rect transform="translate(-7.06)" x="361.91" y="141.30" width="227.10" height="3.00" fill="url(#gb)"/>
<rect transform="translate(-7.13)" x="361.98" y="143.30" width="227.10" height="3.00" fill="url(#gb)"/>
<rect transform="translate(-7.20)" x="362.05" y="145.30" width="227.10" height="3.00" fill="url(#gb)"/>
<rect transform="translate(-7.26)" x="362.11" y="147.30" width="227.10" height="3.00" fill="url(#gb)"/>
<rect transform="translate(-7.33)" x="362.18" y="149.30" width="227.10" height="3.00" fill="url(#gb)"/>
<rect transform="translate(-7.40)" x="362.25" y="151.30" width="227.10" height="3.00" fill="url(#gb)"/>
<rect transform="translate(-7.46)" x="362.31" y="153.30" width="227.10" height="3.00" fill="url(#gb)"/>
<rect transform="translate(-7.53)" x="362.38" y="155.30" width="227.10" height="3.00" fill="url(#gb)"/>
<rect transform="translate(-7.59)" x="362.44" y="157.30" width="227.10" height="3.00" fill="url(#gb)"/>
<rect transform="translate(-7.65)" x="362.50" y="159.30" width="227.10" height="3.00" fill="url(#gb)"/>
<rect transform="translate(-7.71)" x="362.56" y="161.30" width="227.10" height="3.00" fill="url(#gb)"/>
<rect transform="translate(-7.77)" x="362.62" y="163.30" width="227.10" height="3.00" fill="url(#gb)"/>
<rect transform="translate(-7.83)" x="362.68" y="165.30" width="227.10" height="3.00" fill="url(#gb)"/>
<rect transform="translate(-7.89)" x="362.74" y="167.30" width="227.10" height="3.00" fill="url(#gb)"/>
<rect transform="translate(-7.94)" x="362.79" y="169.30" width="227.10" height="3.00" fill="url(#gb)"/>
<rect transform="translate(-8.00)" x="362.85" y="171.30" width="227.10" height="3.00" fill="url(#gb)"/>
<rect transform="translate(-8.05)" x="362.90" y="173.30" width="227.10" height="3.00" fill="url(#gb)"/>
<rect transform="translate(-8.10)" x="362.95" y="175.30" width="227.10" height="3.00" fill="url(#gb)"/>
<rect transform="translate(-8.16)" x="363.01" y="177.30" width="227.10" height="3.00" fill="url(#gb)"/>
<rect transform="translate(-8.21)" x="363.06" y="179.30" width="227.10" height="3.00" fill="url(#gb)"/>
<rect transform="translate(-8.26)" x="363.11" y="181.30" width="227.10" height="3.00" fill="url(#gb)"/>
<rect transform="translate(-8.31)" x="363.16" y="183.30" width="227.10" height="3.00" fill="url(#gb)"/>
<rect transform="translate(-8.36)" x="363.21" y="185.30" width="227.10" height="3.00" fill="url(#gb)"/>
<rect transform="translate(-8.40)" x="363.25" y="187.30" width="227.10" height="3.00" fill="url(#gb)"/>
<rect transform="translate(-8.45)" x="363.30" y="189.30" width="227.10" height="3.00" fill="url(#gb)"/>
<rect transform="translate(-8.50)" x="363.35" y="191.30" width="227.10" height="3.00" fill="url(#gb)"/>
<rect transform="translate(-8.54)" x="363.39" y="193.30" width="227.10" height="3.00" fill="url(#gb)"/>
<rect transform="translate(-8.59)" x="363.44" y="195.30" width="227.10" height="3.00" fill="url(#gb)"/>
<rect transform="translate(-8.63)" x="363.48" y="197.30" width="227.10" height="3.00" fill="url(#gb)"/>
<rect transform="translate(-8.67)" x="363.52" y="199.30" width="227.10" height="3.00" fill="url(#gb)"/>
<rect transform="translate(-8.71)" x="363.56" y="201.30" width="227.10" height="3.00" fill="url(#gb)"/>
<rect transform="translate(-8.75)" x="363.60" y="203.30" width="227.10" height="3.00" fill="url(#gb)"/>
<rect transform="translate(-8.80)" x="363.65" y="205.30" width="227.10" height="3.00" fill="url(#gb)"/>
<rect transform="translate(-8.83)" x="363.68" y="207.30" width="227.10" height="3.00" fill="url(#gb)"/>
<rect transform="translate(-8.87)" x="363.72" y="209.30" width="227.10" height="3.00" fill="url(#gb)"/>
<rect transform="translate(-8.91)" x="363.76" y="211.30" width="227.10" height="3.00" fill="url(#gb)"/>
<rect transform="translate(-8.95)" x="363.80" y="213.30" width="227.10" height="3.00" fill="url(#gb)"/>
<rect transform="translate(-8.99)" x="363.84" y="215.30" width="227.10" height="3.00" fill="url(#gb)"/>
<rect transform="translate(-9.02)" x="363.87" y="217.30" width="227.10" height="3.00" fill="url(#gb)"/>
<rect transform="translate(-9.06)" x="363.91" y="219.30" width="227.10" height="3.00" fill="url(#gb)"/>
<rect transform="translate(-9.09)" x="363.94" y="221.30" width="227.10" height="3.00" fill="url(#gb)"/>
<rect transform="translate(-9.13)" x="363.98" y="223.30" width="227.10" height="3.00" fill="url(#gb)"/>
<rect transform="translate(-9.16)" x="364.01" y="225.30" width="227.10" height="3.00" fill="url(#gb)"/>
<rect transform="translate(-9.19)" x="364.04" y="227.30" width="227.10" height="3.00" fill="url(#gb)"/>
<rect transform="translate(-9.23)" x="364.08" y="229.30" width="227.10" height="3.00" fill="url(#gb)"/>
<rect transform="translate(-9.26)" x="364.11" y="231.30" width="227.10" height="3.00" fill="url(#gb)"/>
<rect transform="translate(-9.29)" x="364.14" y="233.30" width="227.10" height="3.00" fill="url(#gb)"/>
<rect transform="translate(-9.32)" x="364.17" y="235.30" width="227.10" height="3.00" fill="url(#gb)"/>
<rect transform="translate(-9.35)" x="364.20" y="237.30" width="227.10" height="3.00" fill="url(#gb)"/>
<rect transform="translate(-9.38)" x="364.23" y="239.30" width="227.10" height="3.00" fill="url(#gb)"/>
<rect transform="translate(-9.41)" x="364.26" y="241.30" width="227.10" height="3.00" fill="url(#gb)"/>
<rect transform="translate(-9.44)" x="364.29" y="243.30" width="227.10" height="3.00" fill="url(#gb)"/>
<rect transform="translate(-9.47)" x="364.32" y="245.30" width="227.10" height="3.00" fill="url(#gb)"/>
<rect transform="translate(-9.49)" x="364.34" y="247.30" width="227.10" height="3.00" fill="url(#gb)"/>
<rect transform="translate(-9.52)" x="364.37" y="249.30" width="227.10" height="3.00" fill="url(#gb)"/>
<rect transform="translate(-9.55)" x="364.40" y="251.30" width="227.10" height="3.00" fill="url(#gb)"/>
<rect transform="translate(-9.57)" x="364.42" y="253.30" width="227.10" height="3.00" fill="url(#gb)"/>
<rect transform="translate(-9.60)" x="364.45" y="255.30" width="227.10" height="3.00" fill="url(#gb)"/>
<rect transform="translate(-9.63)" x="364.48" y="257.30" width="227.10" height="3.00" fill="url(#gb)"/>
<rect transform="translate(-9.65)" x="364.50" y="259.30" width="227.10" height="3.00" fill="url(#gb)"/>
<rect transform="translate(-9.67)" x="364.52" y="261.30" width="227.10" height="3.00" fill="url(#gb)"/>
<rect transform="translate(-9.70)" x="364.55" y="263.30" width="227.10" height="3.00" fill="url(#gb)"/>
<rect transform="translate(-9.72)" x="364.57" y="265.30" width="227.10" height="3.00" fill="url(#gb)"/>
<rect transform="translate(-9.75)" x="364.60" y="267.30" width="227.10" height="3.00" fill="url(#gb)"/>
<rect transform="translate(-9.77)" x="364.62" y="269.30" width="227.10" height="3.00" fill="url(#gb)"/>
<rect transform="translate(-9.79)" x="364.64" y="271.30" width="227.10" height="3.00" fill="url(#gb)"/>
<rect transform="translate(-9.81)" x="364.66" y="273.30" width="227.10" height="3.00" fill="url(#gb)"/>
<rect transform="translate(-9.83)" x="364.68" y="275.30" width="227.10" height="3.00" fill="url(#gb)"/>
<rect transform="translate(-9.85)" x="364.70" y="277.30" width="227.10" height="3.00" fill="url(#gb)"/>
<rect transform="translate(-9.87)" x="364.72" y="279.30" width="227.10" height="3.00" fill="url(#gb)"/>
<rect transform="translate(-9.90)" x="364.75" y="281.30" width="227.10" height="3.00" fill="url(#gb)"/>
<rect transform="translate(-9.92)" x="364.77" y="283.30" width="227.10" height="3.00" fill="url(#gb)"/>
<rect transform="translate(-9.93)" x="364.78" y="285.30" width="227.10" height="3.00" fill="url(#gb)"/>
<rect transform="translate(-9.95)" x="364.80" y="287.30" width="227.10" height="3.00" fill="url(#gb)"/>
<rect transform="translate(-9.97)" x="364.82" y="289.30" width="227.10" height="3.00" fill="url(#gb)"/>
<rect transform="translate(-9.99)" x="364.84" y="291.30" width="227.10" height="3.00" fill="url(#gb)"/>
<rect transform="translate(-10.01)" x="364.86" y="293.30" width="227.10" height="3.00" fill="url(#gb)"/>
<rect transform="translate(-10.03)" x="364.88" y="295.30" width="227.10" height="3.00" fill="url(#gb)"/>
<rect transform="translate(-10.04)" x="364.89" y="297.30" width="227.10" height="3.00" fill="url(#gb)"/>
<rect transform="translate(-10.06)" x="364.91" y="299.30" width="227.10" height="3.00" fill="url(#gb)"/>
<rect transform="translate(-10.08)" x="364.93" y="301.30" width="227.10" height="1.40" fill="url(#gb)"/>
</g></g></g>
<g filter="url(#bl2)"><g clip-path="url(#cgb)" fill="none" stroke="#000" stroke-width="1.3" stroke-dasharray="3.8 1.7">
<path d="M392.52 29.30 L392.13 33.30 L391.75 37.30 L391.38 41.30 L391.03 45.30 L390.69 49.30 L390.36 53.30 L390.04 57.30 L389.74 61.30 L389.44 65.30 L389.16 69.30 L388.89 73.30 L388.62 77.30 L388.37 81.30 L388.12 85.30 L387.89 89.30 L387.66 93.30 L387.44 97.30 L387.23 101.30 L387.02 105.30 L386.89 108.00"/>
<path d="M384.88 159.30 L384.76 163.30 L384.64 167.30 L384.53 171.30 L384.42 175.30 L384.32 179.30 L384.22 183.30 L384.12 187.30 L384.03 191.30 L383.94 195.30 L383.85 199.30 L383.77 203.30 L383.68 207.30 L383.61 211.30 L383.53 215.30 L383.46 219.30 L383.39 223.30 L383.32 227.30 L383.26 231.30 L383.19 235.30 L383.13 239.30 L383.08 243.30 L383.03 246.20"/>
<path d="M429.32 29.30 L428.93 33.30 L428.55 37.30 L428.18 41.30 L427.83 45.30 L427.49 49.30 L427.16 53.30 L426.84 57.30 L426.54 61.30 L426.24 65.30 L425.96 69.30 L425.69 73.30 L425.42 77.30 L425.17 81.30 L424.92 85.30 L424.69 89.30 L424.46 93.30 L424.39 94.60"/>
<path d="M422.08 147.10 L421.94 151.10 L421.81 155.10 L421.69 159.10 L421.57 163.10 L421.45 167.10 L421.34 171.10 L421.23 175.10 L421.12 179.10 L421.02 183.10 L420.93 187.10 L420.83 191.10 L420.74 195.10 L420.65 199.10 L420.57 203.10 L420.49 207.10 L420.41 211.10 L420.34 214.70"/>
<path d="M465.92 29.30 L465.53 33.30 L465.15 37.30 L464.78 41.30 L464.43 45.30 L464.09 49.30 L463.76 53.30 L463.44 57.30 L463.14 61.30 L462.84 65.30 L462.56 69.30 L462.29 73.30 L462.06 76.80"/>
<path d="M459.41 127.50 L459.25 131.50 L459.10 135.50 L458.95 139.50 L458.80 143.50 L458.66 147.50 L458.53 151.50 L458.40 155.50 L458.27 159.50 L458.15 163.50 L458.04 167.50 L457.93 171.50 L457.82 175.50 L457.71 179.50 L457.64 182.20"/>
<path d="M502.02 29.30 L501.63 33.30 L501.25 37.30 L500.88 41.30 L500.53 45.30 L500.19 49.30 L499.86 53.30 L499.54 57.30 L499.24 61.30 L498.94 65.30 L498.79 67.50"/>
<path d="M495.93 117.70 L495.76 121.70 L495.59 125.70 L495.42 129.70 L495.27 133.70 L495.11 137.70 L494.97 141.70 L494.82 145.70 L494.69 149.70 L494.56 153.70 L494.50 155.40"/>
<path d="M538.22 29.30 L537.83 33.30 L537.45 37.30 L537.08 41.30 L536.73 45.30 L536.40 49.20"/>
<path d="M533.07 98.60 L532.86 102.60 L532.66 106.60 L532.46 110.60 L532.27 114.60 L532.09 118.60 L531.96 121.60"/>
<path d="M574.62 29.30 L574.23 33.30 L573.85 37.30 L573.48 41.30 L573.13 45.30 L572.79 49.30 L572.79 49.30"/>
</g></g>
<g font-family="'Liberation Serif',serif" font-size="9.75" text-anchor="middle" fill="#000" stroke="#000" stroke-width="0.2">
<text transform="translate(387.7 134.1) rotate(85.5)" y="3.3">1.0e+04</text>
<text transform="translate(424.0 120.6) rotate(86.0)" y="3.3">1.0e+06</text>
<text transform="translate(460.9 102.0) rotate(85.5)" y="3.3">1.0e+08</text>
<text transform="translate(498.2 93.1) rotate(85.6)" y="3.3">1.0e+10</text>
<text transform="translate(535.9 75.0) rotate(85.6)" y="3.3">1.0e+12</text>
</g>
<g stroke="#1a1a1a" stroke-width="0.7" fill="none">
<rect x="358.85" y="29.30" width="219.10" height="273.40" stroke-opacity="0.8"/>
<path d="M358.85 29.30h-2.6"/>
<path d="M358.85 59.68h-2.6"/>
<path d="M358.85 90.06h-2.6"/>
<path d="M358.85 120.43h-2.6"/>
<path d="M358.85 150.81h-2.6"/>
<path d="M358.85 181.19h-2.6"/>
<path d="M358.85 211.57h-2.6"/>
<path d="M358.85 241.94h-2.6"/>
<path d="M358.85 272.32h-2.6"/>
<path d="M358.85 302.70h-2.6"/>
<path d="M364.25 302.70v2.8"/>
<path d="M418.88 302.70v2.8"/>
<path d="M473.51 302.70v2.8"/>
<path d="M528.14 302.70v2.8"/>
</g>
<g stroke="#222" stroke-width="0.5" stroke-opacity="0.35">
<path d="M358.96 302.70v1.5"/>
<path d="M361.75 302.70v1.5"/>
<path d="M380.70 302.70v1.5"/>
<path d="M390.32 302.70v1.5"/>
<path d="M397.14 302.70v1.5"/>
<path d="M402.43 302.70v1.5"/>
<path d="M406.76 302.70v1.5"/>
<path d="M410.42 302.70v1.5"/>
<path d="M413.59 302.70v1.5"/>
<path d="M416.38 302.70v1.5"/>
<path d="M435.33 302.70v1.5"/>
<path d="M444.95 302.70v1.5"/>
<path d="M451.77 302.70v1.5"/>
<path d="M457.06 302.70v1.5"/>
<path d="M461.39 302.70v1.5"/>
<path d="M465.05 302.70v1.5"/>
<path d="M468.22 302.70v1.5"/>
<path d="M471.01 302.70v1.5"/>
<path d="M489.96 302.70v1.5"/>
<path d="M499.58 302.70v1.5"/>
<path d="M506.40 302.70v1.5"/>
<path d="M511.69 302.70v1.5"/>
<path d="M516.02 302.70v1.5"/>
<path d="M519.68 302.70v1.5"/>
<path d="M522.85 302.70v1.5"/>
<path d="M525.64 302.70v1.5"/>
<path d="M544.59 302.70v1.5"/>
<path d="M554.21 302.70v1.5"/>
<path d="M561.03 302.70v1.5"/>
<path d="M566.32 302.70v1.5"/>
<path d="M570.65 302.70v1.5"/>
<path d="M574.31 302.70v1.5"/>
<path d="M577.48 302.70v1.5"/>
</g>
<g font-family="'Liberation Serif',serif" font-size="11.3" fill="#111" stroke="#111" stroke-width="0.2">
<text x="354.15" y="33.90" text-anchor="end">1</text>
<text x="354.15" y="64.28" text-anchor="end">2</text>
<text x="354.15" y="94.66" text-anchor="end">3</text>
<text x="354.15" y="125.03" text-anchor="end">4</text>
<text x="354.15" y="155.41" text-anchor="end">5</text>
<text x="354.15" y="185.79" text-anchor="end">6</text>
<text x="354.15" y="216.17" text-anchor="end">7</text>
<text x="354.15" y="246.54" text-anchor="end">8</text>
<text x="354.15" y="276.92" text-anchor="end">9</text>
<text x="354.15" y="307.30" text-anchor="end">10</text>
<text x="364.85" y="319.00" text-anchor="middle">10<tspan font-size="7.5" dy="-7.0">2</tspan></text>
<text x="419.48" y="319.00" text-anchor="middle">10<tspan font-size="7.5" dy="-7.0">3</tspan></text>
<text x="474.11" y="319.00" text-anchor="middle">10<tspan font-size="7.5" dy="-7.0">4</tspan></text>
<text x="528.74" y="319.00" text-anchor="middle">10<tspan font-size="7.5" dy="-7.0">5</tspan></text>
<text x="468.80" y="332.2" text-anchor="middle" font-size="11.5">Horizontal radius a=b (m)</text>
<text transform="translate(337.45 165.80) rotate(-90)" text-anchor="middle" font-size="11.7">Reservoir depth (km)</text>
<text x="466.70" y="10.5" text-anchor="middle" font-size="13.9">(b) Erupted volume for an elongated</text>
<text x="470.40" y="25" text-anchor="middle" font-size="13.9">reservoir (a=b=500*c)</text>
</g>
<defs><linearGradient id="cbb" x1="0" y1="1" x2="0" y2="0"><stop offset="0" stop-color="#313695"/><stop offset="0.1" stop-color="#4575b4"/><stop offset="0.2" stop-color="#74add1"/><stop offset="0.3" stop-color="#abd9e9"/><stop offset="0.4" stop-color="#e0f3f8"/><stop offset="0.5" stop-color="#ffffbf"/><stop offset="0.6" stop-color="#fee090"/><stop offset="0.7" stop-color="#fdae61"/><stop offset="0.8" stop-color="#f46d43"/><stop offset="0.9" stop-color="#d73027"/><stop offset="1" stop-color="#a50026"/></linearGradient></defs>
<rect x="591.30" y="29.30" width="13.90" height="273.40" fill="url(#cbb)"/>
<rect x="591.30" y="302.30" width="13.90" height="1.1" fill="#a9a9b4"/>
<rect x="591.30" y="29.30" width="13.90" height="274.00" fill="none" stroke="#222" stroke-width="0.5" stroke-opacity="0.5"/>
<g stroke="#1a1a1a" stroke-width="0.7">
<path d="M605.20 261.20h2.6"/>
<path d="M605.20 215.62h2.6"/>
<path d="M605.20 170.04h2.6"/>
<path d="M605.20 124.46h2.6"/>
<path d="M605.20 78.88h2.6"/>
<path d="M605.20 33.30h2.6"/>
</g>
<g font-family="'Liberation Serif',serif" font-size="11.3" fill="#111" stroke="#111" stroke-width="0.2">
<text x="610.60" y="266.10">10<tspan font-size="7.7" dy="-6.9">4</tspan></text>
<text x="610.60" y="220.52">10<tspan font-size="7.7" dy="-6.9">6</tspan></text>
<text x="610.60" y="174.94">10<tspan font-size="7.7" dy="-6.9">8</tspan></text>
<text x="610.60" y="129.36">10<tspan font-size="7.7" dy="-6.9">10</tspan></text>
<text x="610.60" y="83.78">10<tspan font-size="7.7" dy="-6.9">12</tspan></text>
<text x="610.60" y="38.20">10<tspan font-size="7.7" dy="-6.9">14</tspan></text>
<text x="582.8" y="11.9" font-size="11.7"><tspan font-family="'DejaVu Sans',sans-serif" font-style="italic" font-size="11.5">V</tspan><tspan font-family="'DejaVu Sans',sans-serif" font-style="italic" font-size="8.3" dy="2.2">e</tspan><tspan dy="-2.2"> (m</tspan><tspan font-family="'DejaVu Sans',sans-serif" font-size="8.2" dy="-4.2">3</tspan><tspan dy="4.2">)</tspan></text>
</g>
<g transform="translate(91.2 270.4) rotate(-34)" font-family="'Liberation Sans',sans-serif" font-size="21.4" fill="#fff"><text x="1" y="0.3">τ</text><text x="10.2" y="7.3" font-size="13" font-style="italic">M</text><text x="20.9" y="0">&lt;τ</text><text x="44.2" y="6" font-size="13" font-style="italic">c</text><text x="48.4" y="0">: no eruption</text></g>
<g transform="translate(422.0 269.4) rotate(-34)" font-family="'Liberation Sans',sans-serif" font-size="21.4" fill="#fff"><text x="1" y="0.3">τ</text><text x="10.2" y="7.3" font-size="13" font-style="italic">M</text><text x="20.9" y="0">&lt;τ</text><text x="44.2" y="6" font-size="13" font-style="italic">c</text><text x="48.4" y="0">: no eruption</text></g>
</svg></body></html>
